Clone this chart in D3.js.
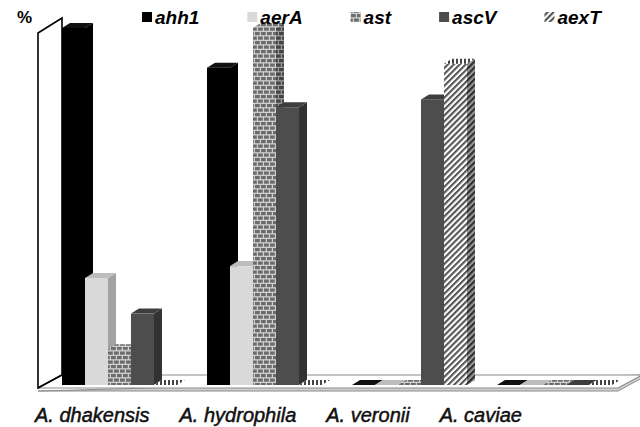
<!DOCTYPE html>
<html>
<head>
<meta charset="utf-8">
<script src="https://cdnjs.cloudflare.com/ajax/libs/d3/7.8.5/d3.min.js"></script>
<style>
body { margin: 0; background: #fff; }
svg { display: block; font-family: "Liberation Sans", Arial, sans-serif; }
</style>
</head>
<body>
<svg id="chart" width="640" height="427"></svg>
<script>
// species (x groups) and genes (series), values are % of isolates
var groups = ["A. dhakensis", "A. hydrophila", "A. veronii", "A. caviae"];
var genes = ["ahh1", "aerA", "ast", "ascV", "aexT"];
var ahh1 = [100, 88.9, 0, 0];
var aerA = [30, 33.3, 0, 0];
var ast = [10, 100, 0, 0];
var ascV = [20, 77.8, 80, 0];
var aexT = [0, 0, 90, 0];

var values = { ahh1: ahh1, aerA: aerA, ast: ast, ascV: ascV, aexT: aexT };

var svg = d3.select("#chart");

// fill patterns
var defs = svg.append("defs");

function brick(id, bg, fg) {
    var p = defs.append("pattern").attr("id", id)
        .attr("patternUnits", "userSpaceOnUse")
        .attr("width", 6).attr("height", 9);
    p.append("rect").attr("width", 6).attr("height", 9).attr("fill", bg);
    p.append("rect").attr("x", 0).attr("y", 0.5).attr("width", 4.8).attr("height", 3.2).attr("fill", fg);
    p.append("rect").attr("x", 3).attr("y", 5).attr("width", 4.8).attr("height", 3.2).attr("fill", fg);
    p.append("rect").attr("x", -3).attr("y", 5).attr("width", 4.8).attr("height", 3.2).attr("fill", fg);
}
function stripe(id, bg, fg) {
    var p = defs.append("pattern").attr("id", id)
        .attr("patternUnits", "userSpaceOnUse")
        .attr("width", 4.2).attr("height", 4.2)
        .attr("patternTransform", "rotate(45)");
    p.append("rect").attr("width", 4.2).attr("height", 4.2).attr("fill", bg);
    p.append("rect").attr("width", 2.1).attr("height", 4.2).attr("fill", fg);
}
brick("brick", "#cfcfcf", "#6c6c6c");
brick("brickDark", "#9a9a9a", "#444");
stripe("stripe", "#fff", "#555");
stripe("stripeDark", "#999", "#2e2e2e");
var dash = defs.append("pattern").attr("id", "dash")
    .attr("patternUnits", "userSpaceOnUse").attr("width", 4).attr("height", 3);
dash.append("rect").attr("width", 4).attr("height", 3).attr("fill", "#fff");
dash.append("rect").attr("width", 2).attr("height", 3).attr("fill", "#444");

var faces = {
    ahh1: { front: "#000", side: "#000", top: "#111", key: "#000" },
    aerA: { front: "#d9d9d9", side: "#a3a3a3", top: "#bdbdbd", key: "#d9d9d9" },
    ast:  { front: "url(#brick)", side: "url(#brickDark)", top: "url(#brick)", key: "url(#brick)" },
    ascV: { front: "#4d4d4d", side: "#323232", top: "#3e3e3e", key: "#4d4d4d" },
    aexT: { front: "url(#stripe)", side: "url(#stripeDark)", top: "url(#dash)", key: "url(#stripe)" }
};

// scales
var x0 = d3.scaleBand().domain(groups).range([62, 612]).paddingInner(0.207).paddingOuter(0);
var x1 = d3.scaleBand().domain(genes).range([0, x0.bandwidth()]);
var y = d3.scaleLinear().domain([0, 100]).range([385, 28]);

var dx = 8, dy = -5;         // bar depth
var wx = 24, wy = -13;       // wall / floor depth

function pts(a) { return a.map(function(p) { return p.join(","); }).join(" "); }

var fx0 = 38, fx1 = 618, fy = 388;

// left wall
svg.append("polygon")
    .attr("points", pts([[fx0, fy], [fx0, 33], [fx0 + wx, 18], [fx0 + wx, fy + wy]]))
    .attr("fill", "#fff").attr("stroke", "#000").attr("stroke-width", 1.6);

// floor
svg.append("polygon")
    .attr("points", pts([[fx0, fy + 3], [fx1, fy + 3], [fx1 + wx, fy + wy + 3], [fx1 + wx, fy + wy]]))
    .attr("fill", "#d0d0d0").attr("stroke", "#8a8a8a").attr("stroke-width", 1);
svg.append("polygon")
    .attr("points", pts([[fx0, fy], [fx0 + wx, fy + wy], [fx1 + wx, fy + wy], [fx1, fy]]))
    .attr("fill", "#fff").attr("stroke", "#8a8a8a").attr("stroke-width", 1.2);
svg.append("line")
    .attr("x1", fx0).attr("y1", fy).attr("x2", fx0 + wx).attr("y2", fy + wy)
    .attr("stroke", "#000").attr("stroke-width", 1.6);

// bars
var flat = [];
groups.forEach(function(g, gi) {
    genes.forEach(function(s) {
        flat.push({ group: g, gene: s, value: values[s][gi] });
    });
});

var bar = svg.append("g").selectAll("g")
    .data(flat)
    .join("g");

bar.each(function(d) {
    var el = d3.select(this);
    var xa = x0(d.group) + x1(d.gene), xb = xa + x1.bandwidth();
    var yb = y(0), yt = y(d.value);
    var f = faces[d.gene];
    if (d.value > 0) {
        el.append("polygon")
            .attr("points", pts([[xb, yb], [xb + dx, yb + dy], [xb + dx, yt + dy], [xb, yt]]))
            .attr("fill", f.side);
        el.append("rect")
            .attr("x", xa).attr("y", yt)
            .attr("width", xb - xa).attr("height", yb - yt)
            .attr("fill", f.front);
    }
    el.append("polygon")
        .attr("points", pts([[xa, yt], [xb, yt], [xb + dx, yt + dy], [xa + dx, yt + dy]]))
        .attr("fill", f.top);
});

// legend, laid out left to right
svg.append("text")
    .attr("x", 17).attr("y", 23)
    .attr("font-size", "17px").attr("font-weight", "bold")
    .text("%");

var lx = 142;
genes.forEach(function(s) {
    svg.append("rect")
        .attr("x", lx).attr("y", 12)
        .attr("width", 10).attr("height", 10)
        .attr("fill", faces[s].key);
    var t = svg.append("text")
        .attr("x", lx + 13).attr("y", 24)
        .attr("font-size", "19px").attr("font-weight", "bold").attr("font-style", "italic")
        .text(s);
    lx += 13 + t.node().getComputedTextLength() + 48;
});

// species labels under the floor
var tx = 35;
groups.forEach(function(g) {
    var t = svg.append("text")
        .attr("x", tx).attr("y", 422)
        .attr("font-size", "20px").attr("font-style", "italic")
        .attr("fill", "#111").attr("stroke", "#111").attr("stroke-width", 0.5)
        .text(g);
    tx += t.node().getComputedTextLength() + 30;
});
</script>
</body>
</html>
